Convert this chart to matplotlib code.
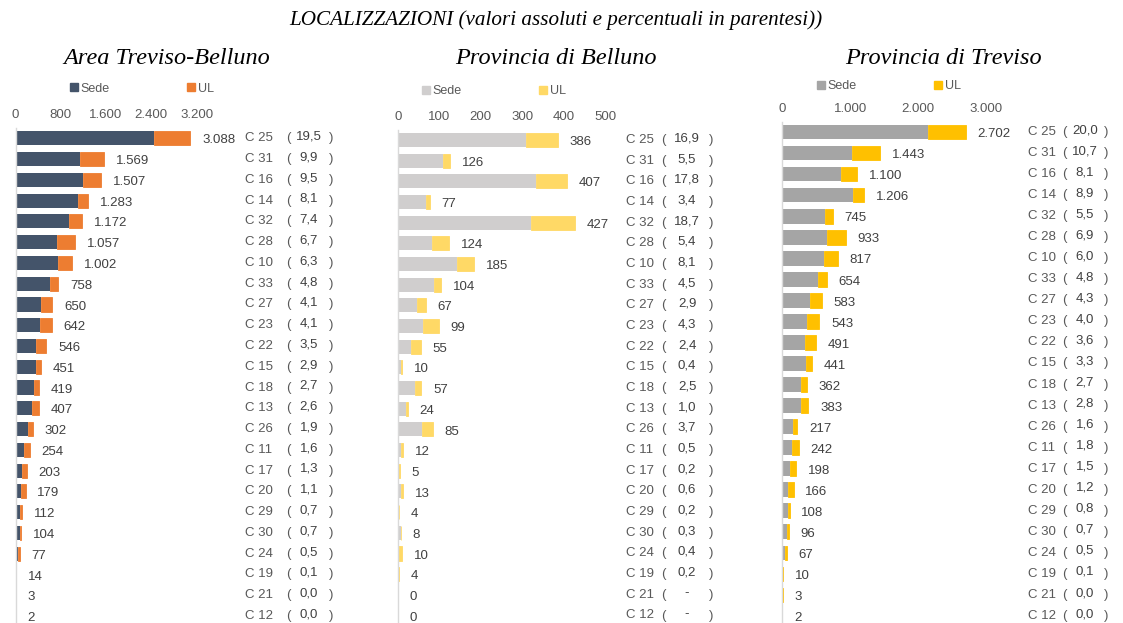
import matplotlib
matplotlib.use("Agg")
import matplotlib.pyplot as plt
import matplotlib.transforms as mtransforms
from matplotlib.patches import Patch

plt.rcParams['font.family'] = ['Liberation Sans', 'DejaVu Sans']

# ---------------- data ----------------
cat_area = ["C 25", "C 31", "C 16", "C 14", "C 32", "C 28", "C 10", "C 33", "C 27", "C 23", "C 22", "C 15",
            "C 18", "C 13", "C 26", "C 11", "C 17", "C 20", "C 29", "C 30", "C 24", "C 19", "C 21", "C 12"]
area_sede = [2453, 1136, 1192, 1108, 949, 740, 758, 618, 458, 425, 366, 356,
             321, 300, 216, 150, 118, 95, 81, 71, 45, 0, 0, 0]
area_ul = [635, 433, 315, 175, 223, 317, 244, 140, 192, 217, 180, 95,
           98, 107, 86, 104, 85, 84, 31, 33, 32, 14, 3, 2]
area_tot = [3088, 1569, 1507, 1283, 1172, 1057, 1002, 758, 650, 642, 546, 451,
            419, 407, 302, 254, 203, 179, 112, 104, 77, 14, 3, 2]
area_pct = [19.5, 9.9, 9.5, 8.1, 7.4, 6.7, 6.3, 4.8, 4.1, 4.1, 3.5, 2.9,
            2.7, 2.6, 1.9, 1.6, 1.3, 1.1, 0.7, 0.7, 0.5, 0.1, 0.0, 0.0]

bl_sede = [308, 110, 333, 67, 321, 82, 144, 88, 46, 62, 32, 7,
           41, 20, 59, 8, 0, 7, 2, 7, 1, 0, 0, 0]
bl_ul = [78, 16, 74, 10, 106, 42, 41, 16, 21, 37, 23, 3,
         16, 4, 26, 4, 5, 6, 2, 1, 9, 4, 0, 0]
bl_tot = [386, 126, 407, 77, 427, 124, 185, 104, 67, 99, 55, 10,
          57, 24, 85, 12, 5, 13, 4, 8, 10, 4, 0, 0]
bl_pct = [16.9, 5.5, 17.8, 3.4, 18.7, 5.4, 8.1, 4.5, 2.9, 4.3, 2.4, 0.4,
          2.5, 1.0, 3.7, 0.5, 0.2, 0.6, 0.2, 0.3, 0.4, 0.2, None, None]

tv_sede = [2145, 1026, 859, 1041, 628, 658, 614, 530, 412, 363, 334, 349,
           280, 280, 157, 142, 118, 88, 79, 64, 44, 0, 0, 0]
tv_ul = [557, 417, 241, 165, 117, 275, 203, 124, 171, 180, 157, 92,
         82, 103, 60, 100, 80, 78, 29, 32, 23, 10, 3, 2]
tv_tot = [2702, 1443, 1100, 1206, 745, 933, 817, 654, 583, 543, 491, 441,
          362, 383, 217, 242, 198, 166, 108, 96, 67, 10, 3, 2]
tv_pct = [20.0, 10.7, 8.1, 8.9, 5.5, 6.9, 6.0, 4.8, 4.3, 4.0, 3.6, 3.3,
          2.7, 2.8, 1.6, 1.8, 1.5, 1.2, 0.8, 0.7, 0.5, 0.1, 0.0, 0.0]

ticks_area = [0, 800, 1600, 2400, 3200]
ticks_bl = [0, 100, 200, 300, 400, 500]
ticks_tv = [0, 1000, 2000, 3000]

# ---------------- figure ----------------
W, H = 1123, 623
fig = plt.figure(figsize=(W / 100, H / 100), dpi=100)
TXT = "#404040"


def fx(px):
    return px / W


def fy(py):
    return 1 - py / H


def fmt_int(v):
    return f"{v:,}".replace(",", ".")


def fmt_pct(v):
    return "-" if v is None else f"{v:.1f}".replace(".", ",")


def panel(left, top_row, last_row, xmax, scale, sede, ul, tot, pct, cats, ticks,
          c_sede, c_ul, tick_y, leg_center, leg_y, title, title_x, col_x):
    n = len(cats)
    step = (last_row - top_row) / (n - 1)
    top = top_row - step / 2
    bottom = last_row + step / 2 + 20
    width = xmax * scale
    ax = fig.add_axes([fx(left), fy(bottom), width / W, (bottom - top) / H])
    ypos = list(range(n))
    ax.barh(ypos, sede, height=0.68, color=c_sede, edgecolor='none')
    ul_bars = ax.barh(ypos, ul, left=sede, height=0.68, color=c_ul, edgecolor='none')
    for b, v in zip(ul_bars, ul):
        if v > 0:
            b.set_edgecolor(c_ul)
            b.set_linewidth(0.6)
    ax.set_xlim(0, xmax)
    ax.set_ylim(-0.5 + (bottom - top) / step, -0.5)
    ax.set_yticks([])
    ax.xaxis.tick_top()
    ax.set_xticks(ticks)
    ax.set_xticklabels([fmt_int(t) for t in ticks])
    ax.tick_params(axis='x', length=0, labelsize=9.5, labelcolor="#595959",
                   pad=(top - tick_y) * 0.72 - 6.0)
    for s in ['top', 'right', 'bottom']:
        ax.spines[s].set_visible(False)
    ax.spines['left'].set_color("#D9D9D9")
    ax.spines['left'].set_linewidth(1.0)
    ax.patch.set_alpha(0)
    for i in ypos:
        ax.annotate(fmt_int(tot[i]), (tot[i], i), xytext=(8.5, -1.5), textcoords='offset points',
                    ha='left', va='center', fontsize=9.5, color=TXT)
    tr = mtransforms.blended_transform_factory(fig.transFigure, ax.transData)
    for i in ypos:
        ax.text(fx(col_x[0]), i, cats[i], transform=tr, ha='left', va='center',
                fontsize=9.5, color="#595959")
        ax.text(fx(col_x[1]), i, "(", transform=tr, ha='center', va='center',
                fontsize=9.5, color="#595959")
        ax.text(fx(col_x[2]), i - 0.08, fmt_pct(pct[i]), transform=tr, ha='center', va='center',
                fontsize=9.5, color="#404040")
        ax.text(fx(col_x[3]), i, ")", transform=tr, ha='center', va='center',
                fontsize=9.5, color="#595959")
    handles = [Patch(color=c_sede, label="Sede"), Patch(color=c_ul, label="UL")]
    fig.legend(handles=handles, loc='center', bbox_to_anchor=(fx(leg_center), fy(leg_y)),
               ncol=2, frameon=False, fontsize=9, handlelength=0.6, handleheight=0.6,
               handletextpad=0.25, columnspacing=6.2, labelcolor="#595959")
    fig.text(fx(title_x), fy(58), title, ha='center', va='center', fontsize=17.5,
             family='Liberation Serif', style='italic', color='black')
    return ax


panel(15.5, 138.3, 616.0, 4000, 0.0566, area_sede, area_ul, area_tot, area_pct, cat_area,
      ticks_area, "#44546A", "#ED7D31", 113, 142, 88.5, "Area Treviso-Belluno", 167,
      (245, 288, 309, 331))
panel(397.7, 140.0, 615.5, 600, 0.415, bl_sede, bl_ul, bl_tot, bl_pct, cat_area,
      ticks_bl, "#D0CECE", "#FFD966", 115, 494, 91, "Provincia di Belluno", 556,
      (626, 663, 687, 711))
panel(782.3, 132.3, 615.7, 3600, 0.0679, tv_sede, tv_ul, tv_tot, tv_pct, cat_area,
      ticks_tv, "#A5A5A5", "#FFC000", 106.7, 889, 86, "Provincia di Treviso", 943,
      (1028, 1064, 1085, 1106))

fig.text(fx(556), fy(20), "LOCALIZZAZIONI (valori assoluti e percentuali in parentesi))",
         ha='center', va='center', fontsize=15.2, family='Liberation Serif', style='italic',
         color='black')

fig.savefig("out.png", dpi=100)
